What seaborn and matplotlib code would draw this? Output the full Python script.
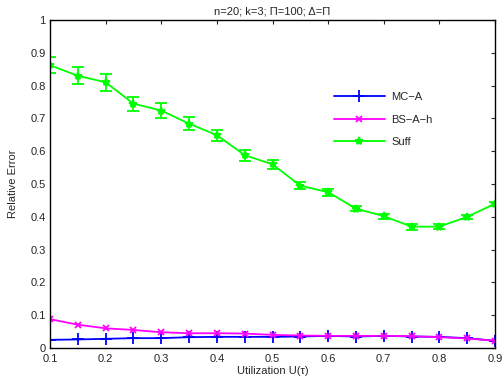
import numpy as np
import pandas as pd
import matplotlib
matplotlib.use("Agg")
import matplotlib.pyplot as plt
import seaborn as sns

x = [0.1, 0.15, 0.2, 0.25, 0.3, 0.35, 0.4, 0.45, 0.5, 0.55, 0.6, 0.65, 0.7, 0.75, 0.8, 0.85, 0.9]
mc_a = [0.025, 0.026, 0.028, 0.030, 0.030, 0.033, 0.034, 0.034, 0.034, 0.035, 0.037, 0.035, 0.037, 0.035, 0.034, 0.030, 0.022]
bs_a_h = [0.088, 0.071, 0.060, 0.055, 0.048, 0.045, 0.045, 0.044, 0.040, 0.038, 0.037, 0.037, 0.037, 0.036, 0.033, 0.029, 0.022]
suff = [0.862, 0.830, 0.810, 0.745, 0.724, 0.684, 0.649, 0.588, 0.560, 0.495, 0.475, 0.425, 0.402, 0.370, 0.370, 0.400, 0.440]
suff_err = [0.025, 0.026, 0.025, 0.021, 0.024, 0.020, 0.017, 0.017, 0.014, 0.011, 0.011, 0.008, 0.008, 0.009, 0.008, 0.007, 0.006]
labels = ["MC\u2212A", "BS\u2212A\u2212h", "Suff"]

sns.set_style("white")
plt.rcParams['font.family'] = ['Liberation Sans', 'DejaVu Sans']

fig = plt.figure(figsize=(5.04, 3.87), dpi=100)
ax = fig.add_axes([50/504, 39/387, 445/504, 328/387])

series = [(mc_a, "#0000ff", "+", 9), (bs_a_h, "#ff00ff", "x", 5), (suff, "#00ff00", "*", 6)]
for (vals, col, mk, ms), lab in zip(series, labels):
    sns.lineplot(x=x, y=vals, color=col, marker=mk, markersize=ms, markeredgewidth=1.3,
                 markeredgecolor=col, markerfacecolor=col, linewidth=1.3, label=lab, ax=ax)
ax.errorbar(x, suff, yerr=suff_err, fmt='none', ecolor="#00ff00", elinewidth=1.3, capsize=4, capthick=1.3)

ax.set_xlim(0.1, 0.9)
ax.set_ylim(0, 1)
ax.set_xticks([0.1, 0.2, 0.3, 0.4, 0.5, 0.6, 0.7, 0.8, 0.9])
ax.set_xticklabels(["0.1", "0.2", "0.3", "0.4", "0.5", "0.6", "0.7", "0.8", "0.9"])
ax.set_yticks([0, 0.1, 0.2, 0.3, 0.4, 0.5, 0.6, 0.7, 0.8, 0.9, 1])
ax.set_yticklabels(["0", "0.1", "0.2", "0.3", "0.4", "0.5", "0.6", "0.7", "0.8", "0.9", "1"])
ax.tick_params(direction='in', top=True, right=True, labelsize=8, length=3, width=0.8)
ax.tick_params(axis='x', pad=4.5)
ax.tick_params(axis='y', pad=3)
for s in ax.spines.values():
    s.set_color('black')
    s.set_linewidth(1.0)
ax.set_xlabel("Utilization U(\u03c4)", fontsize=8, labelpad=1)
ax.set_ylabel("Relative Error", fontsize=8, labelpad=9)
ax.set_title("n=20; k=3; \u03a0=100; \u0394=\u03a0", fontsize=8, pad=4)

leg = ax.legend(loc='upper left', bbox_to_anchor=(0.615, 0.81), frameon=False, fontsize=8,
                handlelength=4.6, labelspacing=1.1, handletextpad=0.6)

fig.savefig("out.png", dpi=100)
